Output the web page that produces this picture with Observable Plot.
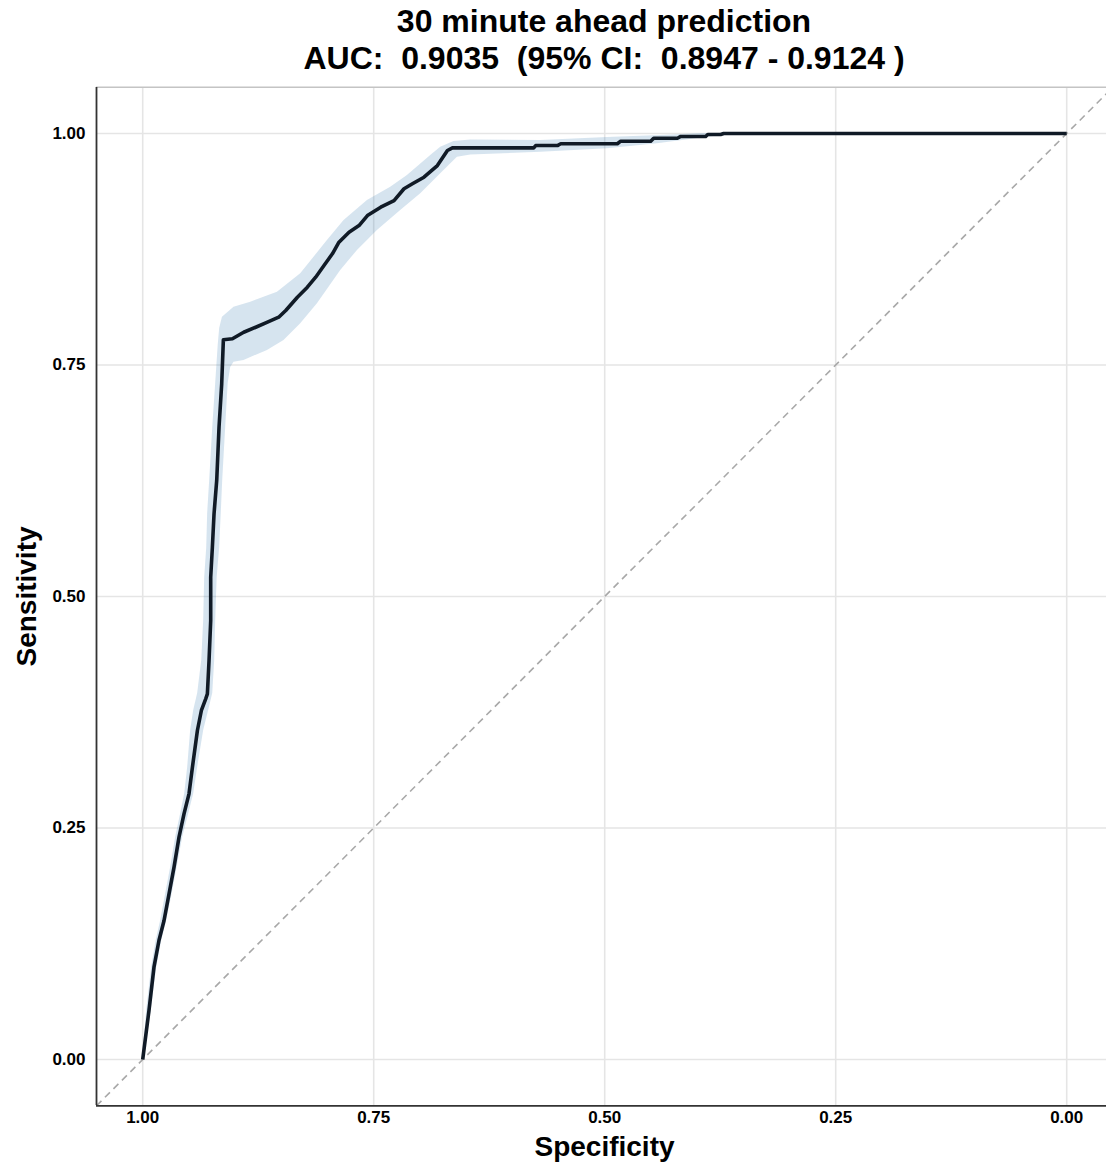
<!DOCTYPE html>
<html>
<head>
<meta charset="utf-8">
<script src="https://cdn.jsdelivr.net/npm/d3@7"></script>
<script src="https://cdn.jsdelivr.net/npm/@observablehq/plot@0.6"></script>
<style>
  html, body { margin: 0; padding: 0; background: #fff; }
  #title {
    width: 1106px; height: 80px; box-sizing: border-box;
    padding-left: 102px; padding-top: 3px;
    font-family: "Liberation Sans", Arial, Helvetica, sans-serif;
    font-weight: bold; font-size: 32px; line-height: 37px;
    text-align: center; white-space: pre; color: #000;
  }
  #chart svg { display: block; }
</style>
</head>
<body>
<div id="title"></div>
<div id="chart"></div>
<script>
// ---- text ----
const titleLines = ["30 minute ahead prediction", "AUC:  0.9035  (95% CI:  0.8947 - 0.9124 )"];
const xLabel = "Specificity";
const yLabel = "Sensitivity";

// ---- axes ----
const xTicks = [1.00, 0.75, 0.50, 0.25, 0.00];
const xTickLabels = ["1.00", "0.75", "0.50", "0.25", "0.00"];
const yTicks = [0.00, 0.25, 0.50, 0.75, 1.00];
const yTickLabels = ["0.00", "0.25", "0.50", "0.75", "1.00"];
const xDomain = [1.05, -0.05];
const yDomain = [-0.05, 1.05];

// ---- ROC curve (specificity, sensitivity) ----
const rocSpec = [1.0000, 0.9932, 0.9878, 0.9824, 0.9769, 0.9715, 0.9661, 0.9607, 0.9553, 0.9499,
  0.9462, 0.9408, 0.9365, 0.9318, 0.9300, 0.9282, 0.9264, 0.9264, 0.9246, 0.9228,
  0.9199, 0.9174, 0.9145, 0.9127, 0.9029, 0.8907, 0.8777, 0.8650, 0.8528, 0.8452,
  0.8326, 0.8218, 0.8128, 0.8038, 0.7947, 0.7876, 0.7767, 0.7659, 0.7568, 0.7424,
  0.7280, 0.7172, 0.7081, 0.6956, 0.6811, 0.6702, 0.6648, 0.5768, 0.5747, 0.5512,
  0.5476, 0.4863, 0.4827, 0.4502, 0.4470, 0.4213, 0.4177, 0.3907, 0.3885, 0.3745,
  0.3712, 0.0000];
const rocSens = [0.0000, 0.0529, 0.0997, 0.1285, 0.1501, 0.1789, 0.2077, 0.2401, 0.2653, 0.2869,
  0.3157, 0.3553, 0.3769, 0.3895, 0.3949, 0.4309, 0.4741, 0.5208, 0.5532, 0.5893,
  0.6253, 0.6828, 0.7297, 0.7772, 0.7783, 0.7854, 0.7908, 0.7962, 0.8016, 0.8089,
  0.8232, 0.8340, 0.8448, 0.8575, 0.8701, 0.8826, 0.8934, 0.9006, 0.9114, 0.9204,
  0.9276, 0.9403, 0.9457, 0.9528, 0.9654, 0.9816, 0.9845, 0.9845, 0.9870, 0.9870,
  0.9889, 0.9889, 0.9917, 0.9917, 0.9949, 0.9949, 0.9968, 0.9968, 0.9989, 0.9989,
  1.0000, 1.0000];

// ---- 95% CI band: upper-left edge and lower-right edge ----
const ciUpperSpec = [1.0000, 0.9957, 0.9903, 0.9854, 0.9805, 0.9751, 0.9697, 0.9643, 0.9589, 0.9545,
  0.9513, 0.9481, 0.9448, 0.9405, 0.9361, 0.9340, 0.9329, 0.9307, 0.9297, 0.9275,
  0.9242, 0.9210, 0.9183, 0.9167, 0.9137, 0.9012, 0.8831, 0.8542, 0.8290, 0.8001,
  0.7821, 0.7568, 0.7316, 0.7135, 0.6883, 0.6775, 0.6631, 0.6450, 0.5693, 0.4971,
  0.4253, 0.3961, 0.0000];
const ciUpperSens = [0.0000, 0.0529, 0.0997, 0.1285, 0.1501, 0.1789, 0.2077, 0.2401, 0.2653, 0.2869,
  0.3157, 0.3553, 0.3769, 0.3952, 0.4309, 0.4741, 0.5205, 0.5529, 0.5896, 0.6253,
  0.6825, 0.7300, 0.7711, 0.7894, 0.8016, 0.8124, 0.8178, 0.8286, 0.8485, 0.8844,
  0.9060, 0.9276, 0.9420, 0.9546, 0.9762, 0.9852, 0.9914, 0.9929, 0.9924, 0.9957,
  0.9984, 1.0000, 1.0000];
const ciLowerSpec = [0.9989, 0.9908, 0.9848, 0.9794, 0.9740, 0.9681, 0.9627, 0.9567, 0.9502, 0.9448,
  0.9405, 0.9340, 0.9286, 0.9242, 0.9221, 0.9210, 0.9194, 0.9167, 0.9150, 0.9134,
  0.9102, 0.9075, 0.9048, 0.9012, 0.8904, 0.8650, 0.8471, 0.8290, 0.8109, 0.7857,
  0.7676, 0.7460, 0.7208, 0.6991, 0.6775, 0.6594, 0.6450, 0.5693, 0.4971, 0.4430,
  0.3889, 0.3528, 0.0000];
const ciLowerSens = [0.0000, 0.0529, 0.0997, 0.1285, 0.1501, 0.1789, 0.2077, 0.2401, 0.2653, 0.2869,
  0.3157, 0.3553, 0.3769, 0.3952, 0.4309, 0.4741, 0.5205, 0.5529, 0.5896, 0.6253,
  0.6825, 0.7300, 0.7473, 0.7530, 0.7549, 0.7657, 0.7765, 0.7945, 0.8161, 0.8521,
  0.8737, 0.8952, 0.9168, 0.9349, 0.9565, 0.9744, 0.9768, 0.9798, 0.9834, 0.9888,
  0.9959, 1.0000, 1.0000];

// ---- build tables ----
const roc = rocSpec.map((s, i) => ({spec: s, sens: rocSens[i]}));
const band = ciUpperSpec.map((s, i) => ({
  x2: s, y2: ciUpperSens[i], x1: ciLowerSpec[i], y1: ciLowerSens[i]
}));
const diag = [{x1: xDomain[0], y1: yDomain[0], x2: xDomain[1], y2: yDomain[1]}];

document.getElementById("title").textContent = titleLines.join("\n");

const W = 1106, H = 1087;
const plot = Plot.plot({
  width: W,
  height: H,
  marginLeft: 96,
  marginRight: 0,
  marginTop: 7,
  marginBottom: 62,
  style: {
    fontFamily: "'Liberation Sans', Arial, Helvetica, sans-serif",
    fontSize: "17px",
    fontWeight: "bold",
    color: "#000",
    background: "#fff",
    overflow: "visible"
  },
  x: {
    domain: xDomain,
    range: [96, 1112.4],
    ticks: xTicks,
    tickFormat: (d) => xTickLabels[xTicks.indexOf(d)],
    tickSize: 0,
    tickPadding: 5,
    label: null
  },
  y: {
    domain: yDomain,
    range: [1025.3, 6.7],
    ticks: yTicks,
    tickFormat: (d) => yTickLabels[yTicks.indexOf(d)],
    tickSize: 0,
    tickPadding: 11,
    label: null
  },
  marks: [
    Plot.ruleX(xTicks, {stroke: "#e5e5e5", strokeWidth: 1.6}),
    Plot.ruleY(yTicks, {stroke: "#e5e5e5", strokeWidth: 1.6}),
    Plot.ruleY([yDomain[1]], {stroke: "#c4c4c4", strokeWidth: 1.6}),
    Plot.area(band, {x1: "x1", y1: "y1", x2: "x2", y2: "y2", fill: "steelblue", fillOpacity: 0.22, curve: "linear"}),
    Plot.link(diag, {x1: "x1", y1: "y1", x2: "x2", y2: "y2", stroke: "#a8a8a8", strokeWidth: 1.6, strokeDasharray: "7,5", clip: true}),
    Plot.line(roc, {x: "spec", y: "sens", stroke: "#101a26", strokeWidth: 3.6, strokeLinejoin: "round", strokeLinecap: "butt"}),
    Plot.ruleX([xDomain[0]], {stroke: "#333", strokeWidth: 1.8}),
    Plot.ruleY([yDomain[0]], {stroke: "#333", strokeWidth: 1.8}),
    Plot.text([xLabel], {frameAnchor: "bottom", textAnchor: "middle", dx: 3, dy: 50, fontSize: 28, fontWeight: "bold", fill: "#000"}),
    Plot.text([yLabel], {frameAnchor: "left", textAnchor: "middle", dx: -69, rotate: -90, fontSize: 28, fontWeight: "bold", fill: "#000"})
  ]
});
document.getElementById("chart").appendChild(plot);
</script>
</body>
</html>
